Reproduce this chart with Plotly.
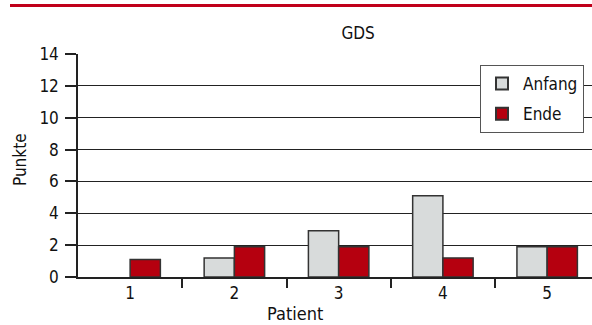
import plotly.graph_objects as go

# GDS scores per patient at start and end (patient 1 has no start value)
patients = [1, 2, 3, 4, 5]
anfang = [None, 1.2, 2.9, 5.1, 1.9]
ende = [1.1, 1.9, 1.9, 1.2, 1.9]
y_ticks = [0, 2, 4, 6, 8, 10, 12, 14]

FONT = "DejaVu Sans Condensed, Liberation Sans Narrow, sans-serif"
RED = "#b5000f"
GREY = "#d8dbdb"
OUTLINE = "#333333"
INK = "#111111"

fig = go.Figure()
fig.add_trace(go.Bar(x=patients, y=anfang, name="Anfang", legendgroup="a",
                     marker=dict(color=GREY, line=dict(color=OUTLINE, width=1.5))))
fig.add_trace(go.Bar(x=patients, y=ende, name="Ende", legendgroup="e",
                     marker=dict(color=RED, line=dict(color=OUTLINE, width=1.5))))

fig.update_layout(
    width=592, height=325,
    margin=dict(l=78, r=0, t=54, b=48),
    paper_bgcolor="white", plot_bgcolor="white",
    barmode="group", bargap=0.42, bargroupgap=0,
    font=dict(family=FONT, size=17, color=INK),
    title=dict(text="GDS", x=0.545, xref="paper", xanchor="center",
               y=1 - 33 / 325, yanchor="middle",
               font=dict(family=FONT, size=17, color=INK)),
    showlegend=True,
    legend=dict(x=(480 - 78) / 514, xanchor="left", y=1 - (65 - 54) / 223, yanchor="top",
                bgcolor="white", bordercolor="#555555", borderwidth=1,
                font=dict(family=FONT, size=17, color=INK), itemsizing="constant",
                tracegroupgap=5, itemwidth=32),
    xaxis=dict(range=[0.5, 5.43], tickmode="array", tickvals=patients,
               ticktext=[str(p) for p in patients], ticks="",
               showline=True, linecolor="#222222", linewidth=1.5,
               showgrid=False, zeroline=False,
               tickfont=dict(family=FONT, size=17, color=INK),
               minor=dict(tickmode="array", tickvals=[1.5, 2.5, 3.5, 4.5],
                          ticks="outside", ticklen=9, tickcolor="#222222",
                          tickwidth=1.5, showgrid=False)),
    yaxis=dict(range=[0, 14], tickmode="array", tickvals=y_ticks,
               ticks="outside", ticklen=11, tickcolor="#222222", tickwidth=1.5,
               ticklabelstandoff=3,
               showline=True, linecolor="#222222", linewidth=1.5,
               showgrid=True, gridcolor="#222222", gridwidth=1.3,
               zeroline=False, tickfont=dict(family=FONT, size=17, color=INK)),
)

# axis titles
fig.add_annotation(text="Patient", xref="paper", yref="paper",
                   x=(295 - 78) / 514, y=-(313 - 277) / 223, showarrow=False,
                   yanchor="middle", font=dict(family=FONT, size=18, color=INK))
fig.add_annotation(text="Punkte", xref="paper", yref="paper",
                   x=-(78 - 20) / 514, y=(277 - 160) / 223, showarrow=False,
                   textangle=-90, xanchor="center", yanchor="middle",
                   font=dict(family=FONT, size=17, color=INK))

# red rule across the top
fig.add_shape(type="line", xref="paper", yref="paper",
              x0=-(78 - 10) / 514, x1=1.0, y0=(277 - 5.5) / 223, y1=(277 - 5.5) / 223,
              line=dict(color="#c0001a", width=3))

fig.write_html("out.html")
